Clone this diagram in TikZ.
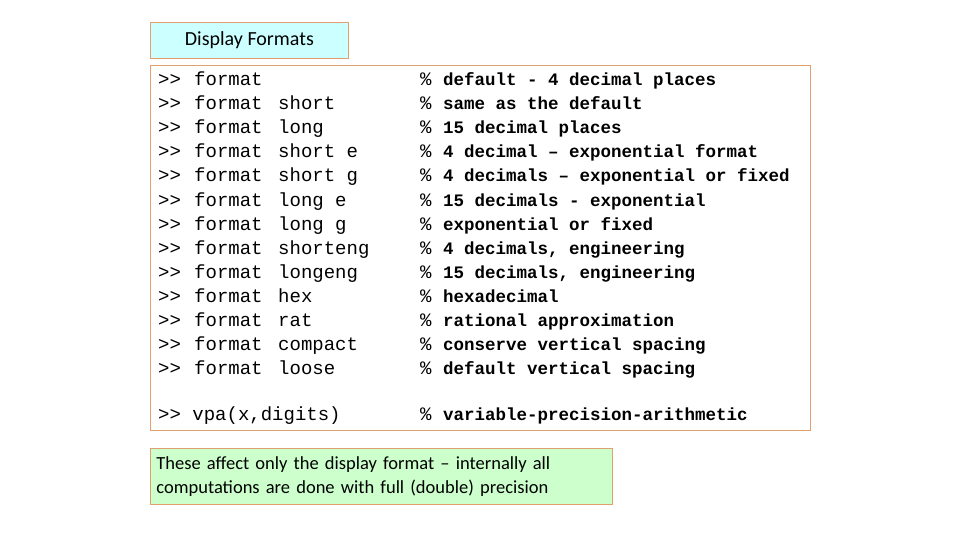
\documentclass[tikz,border=0pt]{standalone}
\usepackage{fontspec}
\setmonofont{Liberation Mono}
\newfontfamily\calib{Carlito}
\definecolor{bord}{HTML}{E0A070}
\definecolor{cyanf}{HTML}{CCFFFF}
\definecolor{greenf}{HTML}{CCFFCC}
\begin{document}
\begin{tikzpicture}[x=1pt,y=-1pt,
  cmd/.style={anchor=base west,inner sep=0pt,font=\fontsize{19}{20}\ttfamily},
  boxst/.style={draw=bord,line width=0.8pt}]
\useasboundingbox (0,0) rectangle (960,540);
\node[boxst,fill=cyanf,minimum width=198,minimum height=36,anchor=north west,inner sep=0pt,font=\calib\fontsize{20}{22}\selectfont] (title) at (150,22) {Display Formats};
\node[boxst,minimum width=660,minimum height=365,anchor=north west] (main) at (150,65) {};
\foreach \i/\a/\c in {0//{default - 4 decimal places},1/short/{same as the default},2/long/{15 decimal places},3/short e/{4 decimal \textendash{} exponential format},4/short g/{4 decimals \textendash{} exponential or fixed},5/long e/{15 decimals - exponential},6/long g/{exponential or fixed},7/shorteng/{4 decimals, engineering},8/longeng/{15 decimals, engineering},9/hex/{hexadecimal},10/rat/{rational approximation},11/compact/{conserve vertical spacing},12/loose/{default vertical spacing}}{
  \pgfmathsetmacro\yy{86+24*\i}
  \node[cmd] (p\i) at (158,\yy) {>>};
  \node[cmd] (f\i) at (194,\yy) {format};
  \node[cmd] (a\i) at (278,\yy) {\a};
  \node[cmd] (q\i) at (420,\yy) {\%};
  \node[cmd] (c\i) at (443,\yy) {\fontsize{17.5}{20}\bfseries\c};
}
\node[cmd] (vp) at (158,420) {>> vpa(x,digits)};
\node[cmd] (vq) at (420,420) {\%};
\node[cmd] (vc) at (443,420) {\fontsize{17.5}{20}\bfseries variable-precision-arithmetic};
\node[boxst,fill=greenf,minimum width=462,minimum height=56,anchor=north west,inner sep=6pt,align=left,text width=450,font=\calib\fontsize{18.5}{24}\selectfont] (note) at (150,448) {These affect only the display format \textendash{} internally all\\computations are done with full (double) precision};
\end{tikzpicture}
\end{document}
